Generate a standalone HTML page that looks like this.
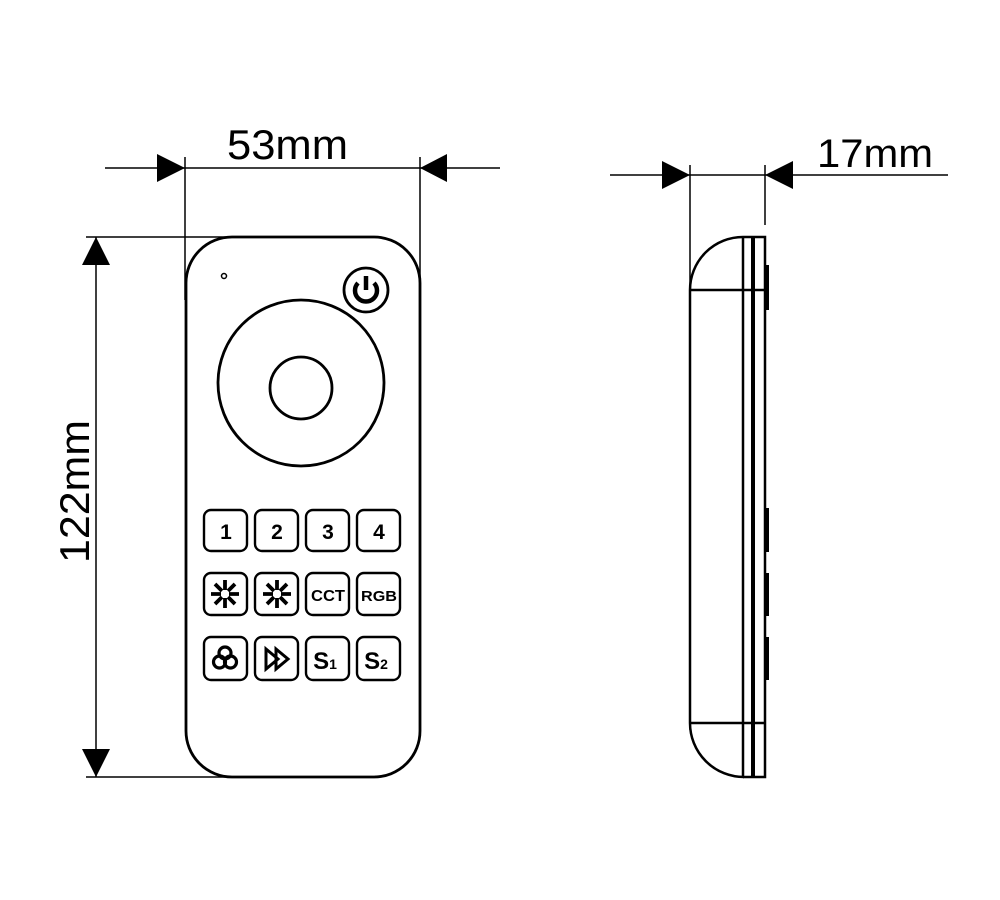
<!DOCTYPE html>
<html><head><meta charset="utf-8"><style>html,body{margin:0;padding:0;background:#fff}svg{display:block}</style></head>
<body>
<svg width="1000" height="900" viewBox="0 0 1000 900" xmlns="http://www.w3.org/2000/svg" font-family="Liberation Sans, sans-serif">
<rect width="1000" height="900" fill="#fff"/>
<g stroke="#000" fill="none" stroke-width="1.5">
  <line x1="105" y1="168" x2="500" y2="168"/>
  <line x1="185" y1="157" x2="185" y2="300"/>
  <line x1="420" y1="157" x2="420" y2="300"/>
  <line x1="96" y1="237" x2="96" y2="777"/>
  <line x1="86" y1="237" x2="230" y2="237"/>
  <line x1="86" y1="777" x2="240" y2="777"/>
  <line x1="610" y1="175" x2="948" y2="175"/>
  <line x1="690" y1="165" x2="690" y2="730"/>
  <line x1="765" y1="165" x2="765" y2="225"/>
</g>
<g fill="#000">
  <polygon points="157,154 185,168 157,182"/>
  <polygon points="447,154 420,168 447,182"/>
  <polygon points="96,237 82,265 110,265"/>
  <polygon points="96,777 82,749 110,749"/>
  <polygon points="662,161 690,175 662,189"/>
  <polygon points="793,161 765,175 793,189"/>
</g>
<text x="227" y="159" font-size="42" textLength="121" lengthAdjust="spacingAndGlyphs">53mm</text>
<text x="817" y="167" font-size="40" textLength="116" lengthAdjust="spacingAndGlyphs">17mm</text>
<text transform="translate(89,563) rotate(-90)" font-size="42" textLength="143" lengthAdjust="spacingAndGlyphs">122mm</text>

<g stroke="#000" fill="none" stroke-width="2.8">
  <rect x="186" y="237" width="234" height="540" rx="46" ry="46"/>
  <circle cx="301" cy="383" r="83"/>
  <circle cx="301" cy="388" r="31"/>
  <circle cx="366" cy="290" r="22"/>
  <circle cx="224" cy="276" r="2.5" stroke-width="1.5"/>
  <path d="M358,283 A11,11 0 1 0 374,283" stroke-width="4.5"/>
  <line x1="366" y1="276" x2="366" y2="290" stroke-width="4.5"/>
  <g stroke-width="2.4">
  <rect x="204" y="510" width="43" height="41" rx="7"/>
  <rect x="255" y="510" width="43" height="41" rx="7"/>
  <rect x="306" y="510" width="43" height="41" rx="7"/>
  <rect x="357" y="510" width="43" height="41" rx="7"/>
  <rect x="204" y="573" width="43" height="42" rx="7"/>
  <rect x="255" y="573" width="43" height="42" rx="7"/>
  <rect x="306" y="573" width="43" height="42" rx="7"/>
  <rect x="357" y="573" width="43" height="42" rx="7"/>
  <rect x="204" y="637" width="43" height="43" rx="7"/>
  <rect x="255" y="637" width="43" height="43" rx="7"/>
  <rect x="306" y="637" width="43" height="43" rx="7"/>
  <rect x="357" y="637" width="43" height="43" rx="7"/>
  </g>
  <g stroke-width="3.8">
    <path d="M225,580v10M225,598v10M211,594h10M229,594h10M215,584l7,7M228,597l7,7M235,584l-7,7M222,597l-7,7"/>
    <path d="M277,580v10M277,598v10M263,594h10M281,594h10M267,584l7,7M280,597l7,7M287,584l-7,7M274,597l-7,7"/>
  </g>
  <g stroke-width="3.2">
    <circle cx="225" cy="653" r="6"/>
    <circle cx="219.5" cy="662" r="6"/>
    <circle cx="230.5" cy="662" r="6"/>
  </g>
  <g stroke-width="3">
    <polygon points="266,649 278,659 266,669"/>
    <polygon points="276,649 288,659 276,669"/>
  </g>
</g>
<g font-weight="bold" text-anchor="middle" fill="#000">
  <text x="226" y="539" font-size="21">1</text>
  <text x="277" y="539" font-size="21">2</text>
  <text x="328" y="539" font-size="21">3</text>
  <text x="379" y="539" font-size="21">4</text>
  <text x="328" y="601" font-size="16" textLength="34" lengthAdjust="spacingAndGlyphs">CCT</text>
  <text x="379" y="601" font-size="15" textLength="36" lengthAdjust="spacingAndGlyphs">RGB</text>
  <text x="325" y="669" font-size="24">S<tspan font-size="14">1</tspan></text>
  <text x="376" y="669" font-size="24">S<tspan font-size="14">2</tspan></text>
</g>

<g stroke="#000" fill="none" stroke-width="2.5">
  <path d="M743,237 H765 V777 H743"/>
  <path d="M743,237 A53,53 0 0 0 690,290 V723 A54,54 0 0 0 744,777"/>
  <line x1="743" y1="237" x2="743" y2="777"/>
  <line x1="753" y1="237" x2="753" y2="777" stroke-width="4"/>
  <line x1="690" y1="290" x2="765" y2="290"/>
  <line x1="690" y1="723" x2="765" y2="723"/>
</g>
<g fill="#000">
  <rect x="765" y="265" width="4" height="45"/>
  <rect x="765" y="508" width="4" height="44"/>
  <rect x="765" y="573" width="4" height="43"/>
  <rect x="765" y="637" width="4" height="43"/>
</g>
</svg>
</body></html>
